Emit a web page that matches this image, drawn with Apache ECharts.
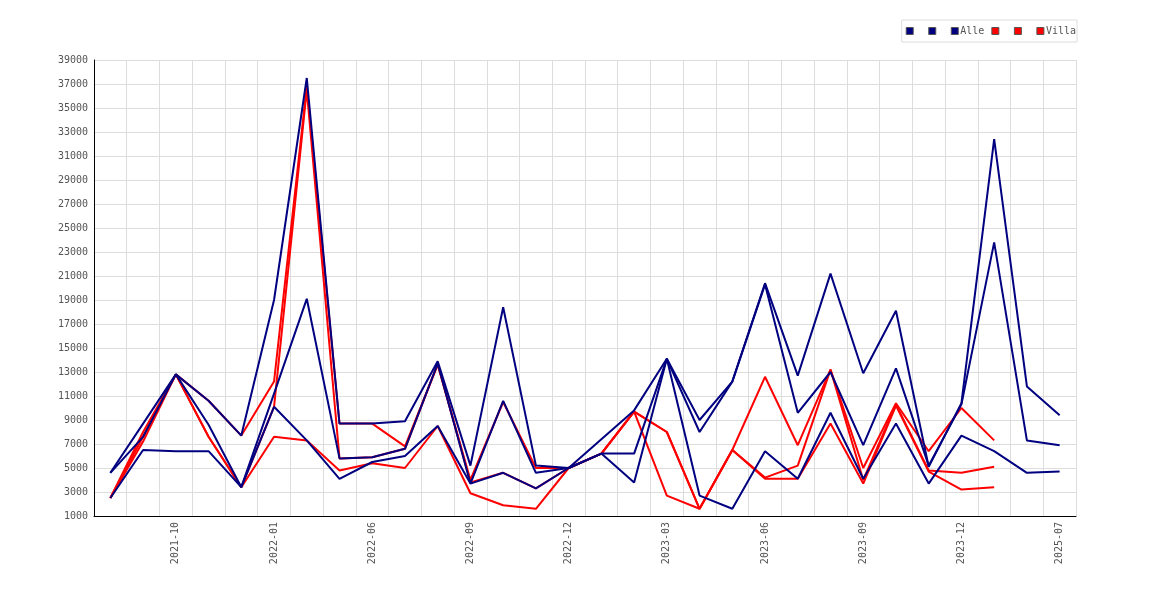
<!DOCTYPE html>
<html>
<head>
<meta charset="utf-8">
<title>Alle / Villa</title>
<script src="https://cdn.jsdelivr.net/npm/echarts@6/dist/echarts.min.js"></script>
<style>
    html, body { margin: 0; padding: 0; background: #fff; }
    #chart { width: 1170px; height: 600px; }
</style>
</head>
<body>
<div id="chart"></div>
<script>
// x-axis months (only every third one gets a label)
const months = [
    '2021-08', '2021-09', '2021-10', '2021-11', '2021-12', '2022-01', '2022-02', '2022-04',
    '2022-06', '2022-07', '2022-08', '2022-09', '2022-10', '2022-11', '2022-12', '2023-01',
    '2023-02', '2023-03', '2023-04', '2023-05', '2023-06', '2023-07', '2023-08', '2023-09',
    '2023-10', '2023-11', '2023-12', '2024-01', '2024-03', '2025-07'
];

// Alle (navy)
const alle1 = [4600, 8700, 12800, 10600, 7700, 19000, 37500, 8700, 8700, 8900, 13900, 5200, 18400, 5200, 5000,
    7400, 9800, 14100, 9000, 12200, 20400, 12700, 21200, 12900, 18100, 5100, 10400, 32400, 11800, 9400];
const alle2 = [4600, 7600, 12800, 8600, 3400, 11200, 19100, 5800, 5900, 6600, 13700, 3700, 10600, 4600, 5000,
    6200, 6200, 14100, 8000, 12200, 20300, 9600, 13000, 6900, 13300, 5200, 10300, 23800, 7300, 6900];
const alle3 = [2500, 6500, 6400, 6400, 3400, 10100, 7300, 4100, 5500, 6000, 8500, 3700, 4600, 3300, 5000,
    6200, 3800, 14100, 2700, 1600, 6400, 4100, 9600, 4100, 8700, 3700, 7700, 6400, 4600, 4700];

// Villa (red)
const villa1 = [2500, 8000, 12800, 10600, 7700, 12200, 36800, 8700, 8700, 6800, 13600, 4000, 10500, 5000, 5000,
    6200, 9700, 8000, 1600, 6500, 12600, 6900, 13200, 5000, 10400, 6400, 10000, 7300, null, null];
const villa2 = [2500, 7600, 12800, 7600, 3400, 10100, 36500, 5800, 5900, 6600, 13700, 3800, 4600, 3300, 5000,
    6200, 9700, 2700, 1600, 6500, 4200, 5200, 13200, 4000, 10300, 4800, 4600, 5100, null, null];
const villa3 = [2500, 7200, 12800, 7600, 3400, 7600, 7300, 4800, 5400, 5000, 8500, 2900, 1900, 1600, 5000,
    6200, 9700, 8000, 1600, 6500, 4100, 4100, 8700, 3700, 10200, 4700, 3200, 3400, null, null];

const NAVY = '#000080';
const RED = '#ff0000';
const FONT = '"DejaVu Sans Mono", monospace';

function lineSeries(name, data, color, z) {
    return {
        name: name,
        type: 'line',
        data: data,
        symbol: 'none',
        z: z,
        connectNulls: false,
        lineStyle: { color: color, width: 2 },
        itemStyle: { color: color }
    };
}

function initChart() {
    const chartDom = document.getElementById('chart');
    const myChart = echarts.init(chartDom, null, { renderer: 'canvas' });

    const option = {
        animation: false,
        backgroundColor: '#fff',
        legend: {
            right: 93,
            top: 20,
            orient: 'horizontal',
            padding: [6, 1, 6, 4],
            borderColor: '#ddd',
            borderWidth: 1,
            itemWidth: 7,
            itemHeight: 7,
            itemGap: 7,
            icon: 'rect',
            selectedMode: false,
            textStyle: { fontFamily: FONT, fontSize: 10, color: '#555', padding: [0, 0, 0, -3] },
            // the unnamed entries only show their swatch
            formatter: function(name) {
                return name.charAt(0) === '_' ? ' ' : name;
            },
            data: ['_a1', '_a2', 'Alle', '_v1', '_v2', 'Villa'].map(function(n, i) {
                return {
                    name: n,
                    itemStyle: { color: i < 3 ? NAVY : RED, borderColor: '#555', borderWidth: 1 }
                };
            })
        },
        grid: { left: 94, right: 94, top: 60, bottom: 84, containLabel: false },
        xAxis: {
            type: 'category',
            data: months,
            boundaryGap: true,
            axisLine: { show: true, lineStyle: { color: '#000', width: 1 } },
            axisTick: { show: false },
            axisLabel: {
                rotate: 90,
                margin: 6,
                color: '#555',
                fontFamily: FONT,
                fontSize: 10,
                interval: function(index) { return index % 3 === 2; }
            },
            splitLine: { show: true, interval: 0, lineStyle: { color: '#ddd', width: 1 } }
        },
        yAxis: {
            type: 'value',
            min: 1000,
            max: 39000,
            interval: 2000,
            axisLine: { show: true, lineStyle: { color: '#000', width: 1 } },
            axisTick: { show: false },
            axisLabel: {
                margin: 6,
                color: '#555',
                fontFamily: FONT,
                fontSize: 10,
                formatter: function(v) { return String(v); }
            },
            splitLine: { show: true, lineStyle: { color: '#ddd', width: 1 } }
        },
        series: [
            lineSeries('_v1', villa1, RED, 2),
            lineSeries('_v2', villa2, RED, 2),
            lineSeries('Villa', villa3, RED, 2),
            lineSeries('_a1', alle1, NAVY, 3),
            lineSeries('_a2', alle2, NAVY, 3),
            lineSeries('Alle', alle3, NAVY, 3)
        ]
    };

    myChart.setOption(option);
}

initChart();
</script>
</body>
</html>
